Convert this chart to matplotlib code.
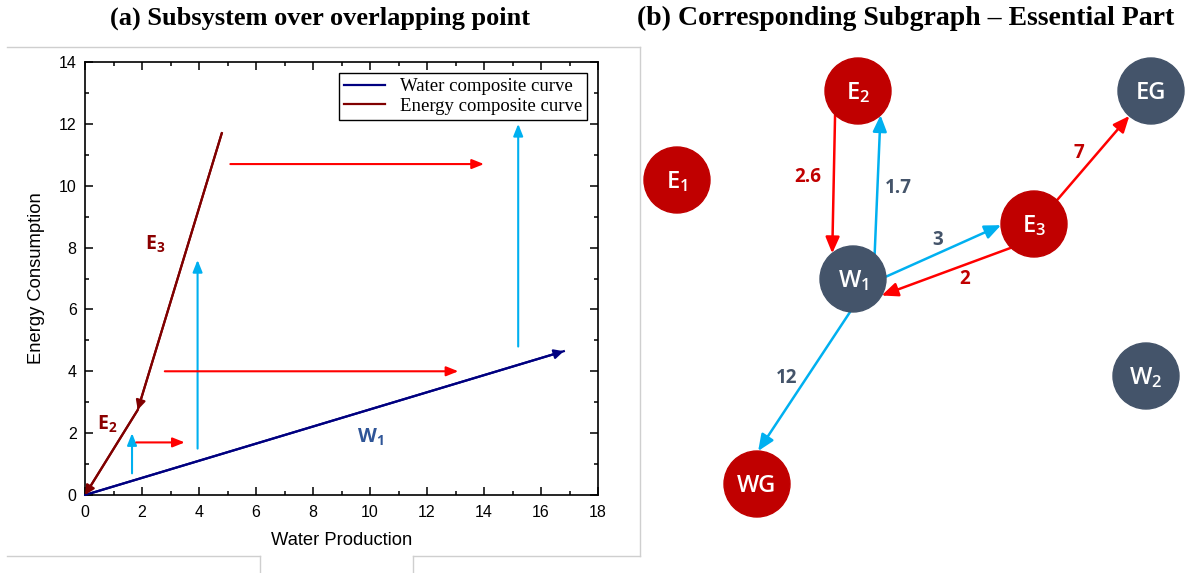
import matplotlib.pyplot as plt
import numpy as np
from matplotlib.patches import Circle
from matplotlib.ticker import MultipleLocator

# ---- (a) composite curves ----
water_x = [0, 16.8]
water_y = [0, 4.65]
energy_x = [4.8, 1.85, 0]
energy_y = [11.7, 2.75, 0]

# water transfers (vertical arrows): x, from y, to y
cyan_x = [1.65, 3.95, 15.2]
cyan_y0 = [0.7, 1.5, 4.8]
cyan_y1 = [2.0, 7.6, 12.0]

# energy transfers (horizontal arrows): y, from x, to x
red_y = [1.7, 4.0, 10.7]
red_x0 = [1.8, 2.8, 5.1]
red_x1 = [3.5, 13.1, 14.0]

curve_labels = ['E_3', 'E_2', 'W_1']
curve_label_x = [2.46, 0.77, 10.0]
curve_label_y = [8.1, 2.27, 1.88]

# ---- (b) subgraph ----
node_names = ['E1', 'E2', 'E3', 'W1', 'W2', 'EG', 'WG']
node_text = ['E_1', 'E_2', 'E_3', 'W_1', 'W_2', 'EG', 'WG']
node_x = [677, 858, 1034, 853, 1146, 1151, 757]
node_y = [180, 91, 224, 279, 376, 91, 484]
node_red = [True, True, True, False, False, False, True]

edge_src = ['E2', 'W1', 'W1', 'E3', 'E3', 'W1']
edge_dst = ['W1', 'E2', 'E3', 'W1', 'EG', 'WG']
edge_weight = ['2.6', '1.7', '3', '2', '7', '12']
edge_is_energy = [True, False, False, True, True, False]

# where each edge leaves / enters its circle (deg, y down) and label spots
edge_angles = [(134, -129), (-49, 47), (-4, 178), (134, 30), (-46, 131), (95, -88)]
label_pos = [(808, 177), (898, 188), (938, 240), (965, 279), (1079, 153), (787, 378)]

RED_NODE = '#C00000'
SLATE = '#44546A'
CYAN = '#00B0F0'
RED = '#FF0000'
R = 33

fig = plt.figure(figsize=(11.86, 5.73), dpi=100)

# background overlay in pixel coordinates (frame + graph)
bg = fig.add_axes([0, 0, 1, 1])
bg.set_xlim(0, 1186)
bg.set_ylim(573, 0)
bg.axis('off')

frame = '#CFCFCF'
bg.plot([7, 640], [47, 47], color=frame, lw=1)
bg.plot([640, 640], [47, 556], color=frame, lw=1)
bg.plot([7, 260], [556, 556], color=frame, lw=1)
bg.plot([413, 640], [556, 556], color=frame, lw=1)
bg.plot([260, 260], [556, 573], color=frame, lw=1)
bg.plot([413, 413], [556, 573], color=frame, lw=1)

fig.text(320 / 1186, 1 - 18 / 573, '(a) Subsystem over overlapping point',
         ha='center', va='center', fontsize=19, fontweight='bold',
         family='Liberation Serif')
fig.text(906 / 1186, 1 - 18 / 573, '(b) Corresponding Subgraph \u2013 Essential Part',
         ha='center', va='center', fontsize=20, fontweight='bold',
         family='Liberation Serif')

# graph
pos = {n: (x, y) for n, x, y in zip(node_names, node_x, node_y)}
for n, txt, red in zip(node_names, node_text, node_red):
    x, y = pos[n]
    bg.add_patch(Circle((x, y), R, color=RED_NODE if red else SLATE, zorder=3))
    if '_' in txt:
        s = r'$\mathregular{%s}$' % txt
    else:
        s = txt
    bg.text(x, y + 2, s, color='white', ha='center', va='center', fontsize=17,
            fontweight='semibold', family='Open Sans', zorder=4)

for s, d, w, en, (a0, a1), (lx, ly) in zip(edge_src, edge_dst, edge_weight,
                                          edge_is_energy, edge_angles, label_pos):
    x0, y0 = pos[s]
    x1, y1 = pos[d]
    p0 = (x0 + R * np.cos(np.radians(a0)), y0 + R * np.sin(np.radians(a0)))
    p1 = (x1 + R * np.cos(np.radians(a1)), y1 + R * np.sin(np.radians(a1)))
    bg.annotate('', xy=p1, xytext=p0, zorder=2,
                arrowprops=dict(arrowstyle='-|>,head_length=0.7,head_width=0.3',
                                color=RED if en else CYAN, lw=1.8,
                                shrinkA=0, shrinkB=0, mutation_scale=14))
    bg.text(lx, ly, w, color=RED_NODE if en else SLATE, ha='center', va='center',
            fontsize=13.5, fontweight='bold', family='Open Sans')

# ---- chart (a) ----
ax = fig.add_axes([85 / 1186, 78 / 573, 513 / 1186, 433 / 573])
ax.set_facecolor('none')
ax.set_xlim(0, 18)
ax.set_ylim(0, 14)

ax.plot(water_x, water_y, color='#000080', lw=1.6, label='Water composite curve')
ax.plot(energy_x, energy_y, color='#800000', lw=1.6, label='Energy composite curve')
ax.annotate('', xy=(water_x[1], water_y[1]), xytext=(water_x[0], water_y[0]),
            arrowprops=dict(arrowstyle='-|>', color='#000080', lw=1.6,
                            shrinkA=0, shrinkB=0, mutation_scale=14))
for i in range(len(energy_x) - 1):
    ax.annotate('', xy=(energy_x[i + 1], energy_y[i + 1]),
                xytext=(energy_x[i], energy_y[i]),
                arrowprops=dict(arrowstyle='-|>', color='#800000', lw=1.6,
                                shrinkA=0, shrinkB=0, mutation_scale=14))

for x, a, b in zip(cyan_x, cyan_y0, cyan_y1):
    ax.annotate('', xy=(x, b), xytext=(x, a),
                arrowprops=dict(arrowstyle='-|>,head_length=0.55,head_width=0.22',
                                color=CYAN, lw=1.5, shrinkA=0, shrinkB=0,
                                mutation_scale=13))
for y, a, b in zip(red_y, red_x0, red_x1):
    ax.annotate('', xy=(b, y), xytext=(a, y),
                arrowprops=dict(arrowstyle='-|>,head_length=0.55,head_width=0.22',
                                color=RED, lw=1.5, shrinkA=0, shrinkB=0,
                                mutation_scale=13))

for t, x, y in zip(curve_labels, curve_label_x, curve_label_y):
    c = '#2F5597' if t.startswith('W') else '#8B0000'
    ax.text(x, y, r'$\mathregular{%s}$' % t, color=c, ha='center', va='center',
            fontsize=14, fontweight='bold', family='Open Sans')

ax.xaxis.set_major_locator(MultipleLocator(2))
ax.xaxis.set_minor_locator(MultipleLocator(1))
ax.yaxis.set_major_locator(MultipleLocator(2))
ax.yaxis.set_minor_locator(MultipleLocator(1))
ax.tick_params(which='both', direction='in', top=True, right=True, width=1.1)
ax.tick_params(which='major', length=6, labelsize=11.5)
ax.tick_params(axis='x', which='major', pad=7)
ax.tick_params(axis='y', which='major', pad=6)
ax.tick_params(which='minor', length=3)
for sp in ax.spines.values():
    sp.set_linewidth(1.2)
for lab in ax.get_xticklabels() + ax.get_yticklabels():
    lab.set_family('Liberation Sans')
ax.set_xlabel('Water Production', fontsize=13.2, family='Liberation Sans', labelpad=9)
ax.set_ylabel('Energy Consumption', fontsize=13.2, family='Liberation Sans', labelpad=10)

leg = ax.legend(loc='upper right', fancybox=False, framealpha=1, edgecolor='black',
                prop={'family': 'Liberation Serif', 'size': 13.5}, handlelength=2.2,
                borderpad=0.25, labelspacing=0.15, borderaxespad=0.6)
leg.get_frame().set_linewidth(1.0)

fig.savefig('out.png', dpi=100)
